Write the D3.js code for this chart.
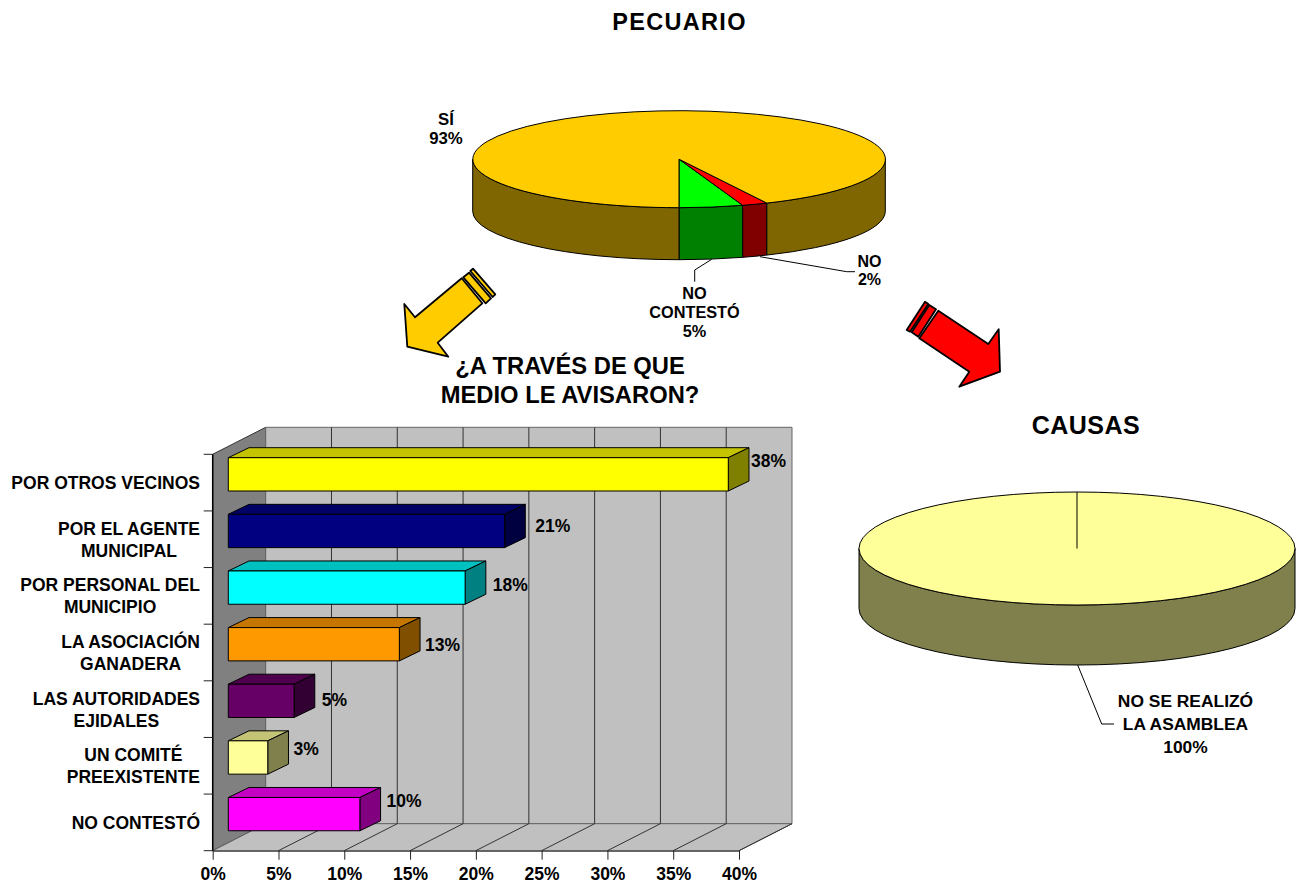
<!DOCTYPE html>
<html>
<head>
<meta charset="utf-8">
<script src="https://cdn.jsdelivr.net/npm/d3@7"></script>
<style>
  html, body { margin: 0; padding: 0; background: #fff; }
  svg { display: block; }
  text { font-family: "Liberation Sans", Arial, sans-serif; font-weight: bold; fill: #000; }
  .edge { stroke: #000; stroke-width: 1; vector-effect: non-scaling-stroke; stroke-linejoin: round; }
</style>
</head>
<body>
<svg id="chart" width="1296" height="884"></svg>
<script>
// pecuario pie
var pieLabels = ["NO CONTESTÓ", "NO", "SÍ"];
var pieValues = [5, 2, 93];
var pieTop = ["#00ff00", "#ff0000", "#ffcc00"];
var pieSide = ["#008000", "#800000", "#806600"];

// causas pie
var causaLabels = ["NO SE REALIZÓ LA ASAMBLEA"];
var causaValues = [100];

// bars
var medios = [["POR OTROS VECINOS"], ["POR EL AGENTE", "MUNICIPAL"], ["POR PERSONAL DEL", "MUNICIPIO"],
  ["LA ASOCIACIÓN", "GANADERA"], ["LAS AUTORIDADES", "EJIDALES"], ["UN COMITÉ", "PREEXISTENTE"], ["NO CONTESTÓ"]];
var medioValues = [38, 21, 18, 13, 5, 3, 10];
var medioLabels = ["38%", "21%", "18%", "13%", "5%", "3%", "10%"];
var medioFront = ["#ffff00", "#000080", "#00ffff", "#ff9900", "#660066", "#ffff99", "#ff00ff"];
var medioTop = ["#c4c400", "#000066", "#00c0c0", "#c47600", "#4e004e", "#c4c476", "#c400c4"];
var medioSide = ["#808000", "#000040", "#008080", "#805000", "#330033", "#80804d", "#800080"];
var xTicks = [0, 5, 10, 15, 20, 25, 30, 35, 40];

// the value labels were hand placed in the original, so they don't sit at a fixed spot
var labelNudgeX = [2, 10, 7, 5, 7, 5, 6];
var labelNudgeY = [-13, -5, -3, 1, -1, -8, -13];

var svg = d3.select("#chart");

function addText(x, y, lines, size, lh, anchor) {
  var t = svg.append("text").attr("text-anchor", anchor || "middle").style("font-size", size + "px");
  lines.forEach(function(l, i) {
    t.append("tspan").attr("x", x).attr("y", y + i * (lh || 0)).text(l);
  });
  return t;
}

function polyline(pts, fill) {
  return svg.append("path").attr("class", "edge")
    .attr("fill", fill || "none")
    .attr("d", d3.line()(pts) + (fill ? "Z" : ""));
}

// ---- 3d pie: top ellipse from d3.arc squashed by a scale transform
function drawPie(values, cx, cy, rx, ry, depth, topColors, sideColors, startAngle, endAngle) {
  var arcs = d3.pie().sort(null).startAngle(startAngle).endAngle(endAngle)(values);
  var g = svg.append("g");

  // side wall, only the front half of the rim is visible
  var front = [[Math.PI / 2, 1.5 * Math.PI], [-1.5 * Math.PI, -Math.PI / 2]];
  arcs.forEach(function(d, i) {
    var a0 = Math.min(d.startAngle, d.endAngle), a1 = Math.max(d.startAngle, d.endAngle);
    front.forEach(function(f) {
      var lo = Math.max(a0, f[0]), hi = Math.min(a1, f[1]);
      if (hi <= lo) return;
      var xa = cx + rx * Math.sin(lo), ya = cy - ry * Math.cos(lo);
      var xb = cx + rx * Math.sin(hi), yb = cy - ry * Math.cos(hi);
      g.append("path").attr("class", "edge").attr("fill", sideColors[i])
        .attr("d", "M" + xa + "," + ya + "L" + xa + "," + (ya + depth) +
          "A" + rx + "," + ry + " 0 0 1 " + xb + "," + (yb + depth) +
          "L" + xb + "," + yb +
          "A" + rx + "," + ry + " 0 0 0 " + xa + "," + ya + "Z");
    });
  });

  var arc = d3.arc().innerRadius(0).outerRadius(1);
  g.selectAll(".slice").data(arcs).enter().append("path")
    .attr("class", "slice edge")
    .attr("transform", "translate(" + cx + "," + cy + ") scale(" + rx + "," + ry + ")")
    .attr("fill", function(d, i) { return topColors[i]; })
    .attr("d", arc);

  // a full circle has no radius edge of its own
  if (values.length == 1) {
    g.append("line").attr("class", "edge")
      .attr("x1", cx).attr("x2", cx + rx * Math.sin(startAngle))
      .attr("y1", cy).attr("y2", cy - ry * Math.cos(startAngle));
  }
}

// ---- titles
addText(679.5, 30, ["PECUARIO"], 23.5).style("letter-spacing", "1.3px");
addText(570, 374, ["¿A TRAVÉS DE QUE", "MEDIO LE AVISARON?"], 23.75, 29);
addText(1086, 434, ["CAUSAS"], 25).style("letter-spacing", "0.5px");

// ---- top pie
drawPie(pieValues, 679, 159.2, 206.3, 48.5, 52, pieTop, pieSide, Math.PI, -Math.PI);
addText(446, 125, ["SÍ", "93%"], 16.8, 19);
addText(694.5, 298.5, ["NO", "CONTESTÓ", "5%"], 16.3, 19);
addText(869.5, 266.5, ["NO", "2%"], 16, 18.5);
polyline([[711.7, 259.3], [694.7, 270], [694.7, 281.7]]);
polyline([[760, 256.7], [846.7, 271.7], [855, 271.7]]);

// ---- arrows
var arrowL = polyline([[461.7, 278.3], [415, 317.3], [404.3, 304], [407.3, 346.7], [448.3, 356.7], [437.7, 342.7], [482.3, 303.3]], "#ffcc00");
var arrowL1 = polyline([[463.3, 277.3], [469, 272.7], [491, 298.3], [485.7, 303.3]], "#ffcc00");
var arrowL2 = polyline([[470.3, 271], [473, 268.7], [495.3, 294.3], [492.7, 297]], "#ffcc00");
var arrowR = polyline([[938.3, 310.7], [988.3, 344], [998.7, 329.3], [1000, 371.7], [959.3, 386.7], [969.3, 371.7], [919.3, 338.3]], "#ff0000");
var arrowR1 = polyline([[929.3, 305], [936, 309.3], [918.3, 336.7], [911.7, 332.3]], "#ff0000");
var arrowR2 = polyline([[925, 301.7], [928.3, 304], [910, 331.7], [906.7, 330]], "#ff0000");
[arrowL, arrowL1, arrowL2, arrowR, arrowR1, arrowR2].forEach(function(a) { a.style("stroke-width", 1.8); });

// ---- bottom pie
drawPie(causaValues, 1077, 548.5, 218, 56.5, 60, ["#ffff99"], ["#80804d"], 0, 2 * Math.PI);
addText(1185.5, 706.5, ["NO SE REALIZÓ", "LA ASAMBLEA", "100%"], 17.4, 23);
polyline([[1077.7, 665], [1101.7, 724], [1114, 724]]);

// ---- bar chart
var x = d3.scaleLinear().domain([0, 40]).range([212.7, 739]);
var y = d3.scaleBand().domain(d3.range(medios.length)).range([454.3, 850.7]);
var dx = 53, dy = 27;
var barDx = 20.7, barDy = 10;
var barInset = 15.6;
var barPad = 3.4, barH = 33.3;
var x0 = x(0), x1 = x(40), yT = y.range()[0], yB = y.range()[1];

// walls
polyline([[x0, yT], [x0 + dx, yT - dy], [x0 + dx, yB - dy], [x0, yB]], "#808080").style("stroke", "#333");
polyline([[x0 + dx, yT - dy], [x1 + dx, yT - dy], [x1 + dx, yB - dy], [x0 + dx, yB - dy]], "#c0c0c0").style("stroke", "#666");
polyline([[x0, yB], [x0 + dx, yB - dy], [x1 + dx, yB - dy], [x1, yB]], "#c0c0c0").style("stroke", "#666");

// gridlines, back wall and floor
xTicks.slice(1, -1).forEach(function(t) {
  polyline([[x(t) + dx, yT - dy], [x(t) + dx, yB - dy], [x(t), yB]]).style("stroke", "#333");
});
polyline([[x1 + dx, yB - dy], [x1, yB]]).style("stroke", "#333");

// axis lines and ticks
var xAxis = svg.append("g").attr("transform", "translate(0," + yB + ")")
  .call(d3.axisBottom(x).tickValues(xTicks).tickSizeInner(9).tickSizeOuter(0).tickFormat(function(d) { return d + "%"; }));
xAxis.select(".domain").attr("stroke", "#333");
xAxis.selectAll("line").attr("stroke", "#222");
xAxis.selectAll("text").attr("dy", 0).attr("y", 29).style("font-size", "17.5px")
  .style("font-family", '"Liberation Sans", Arial, sans-serif');

svg.append("path").attr("class", "edge").attr("fill", "none").style("stroke-width", 1.5).attr("d", "M" + x0 + "," + yT + "L" + x0 + "," + yB);
d3.range(medios.length + 1).forEach(function(i) {
  var ty = yT + i * y.bandwidth();
  svg.append("line").attr("x1", x0 - 9).attr("x2", x0).attr("y1", ty).attr("y2", ty).attr("stroke", "#222");
});

// category labels, centred on each other and flush right as a block
medios.forEach(function(lines, i) {
  var mid = y(i) + y.bandwidth() / 2 + 0.5;
  var t = addText(0, mid + 6 - (lines.length - 1) * 11, lines, 17.5, 22);
  var w = t.node().getBBox().width;
  t.selectAll("tspan").attr("x", 200 - w / 2);
});

// bars
medioValues.forEach(function(v, i) {
  var l = x0 + barInset, r = l + (x(v) - x(0));
  var t = y(i) + barPad, b = t + barH;
  polyline([[l, t], [l + barDx, t - barDy], [r + barDx, t - barDy], [r, t]], medioTop[i]);
  polyline([[r, t], [r + barDx, t - barDy], [r + barDx, b - barDy], [r, b]], medioSide[i]);
  polyline([[l, t], [r, t], [r, b], [l, b]], medioFront[i]);
  addText(r + barDx + labelNudgeX[i], (t + b) / 2 + 6 + labelNudgeY[i], [medioLabels[i]], 17.5, 0, "start");
});
</script>
</body>
</html>
